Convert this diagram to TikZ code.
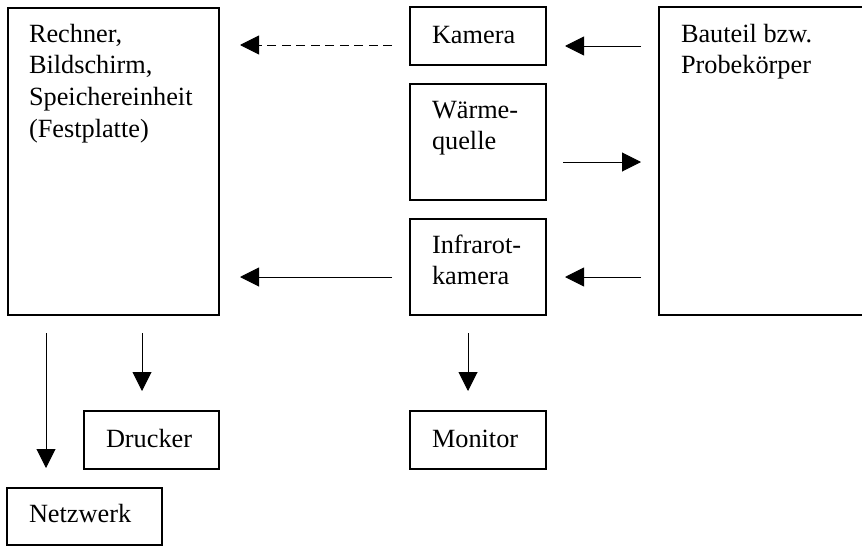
\documentclass[tikz,border=0pt]{standalone}
\usepackage{fontspec}
\setmainfont{Liberation Serif}
\usetikzlibrary{arrows.meta}
\begin{document}
\begin{tikzpicture}[x=1pt,y=-1pt,
  box/.style={draw, line width=1.9pt, inner sep=0pt, outer sep=0pt, anchor=north west},
  txt/.style={inner sep=0pt, outer sep=0pt, anchor=base west, align=left,
    font=\fontsize{26.3}{31.7}\selectfont},
  arr/.style={line width=1pt, -{Triangle[length=19pt,width=19pt]}},
  dsh/.style={dash pattern=on 9pt off 5.5pt}]
\useasboundingbox (0,0) rectangle (862,546);
\clip (0,0) rectangle (862,546);
% boxes
\node[box, minimum width=211pt, minimum height=307pt] (rech) at (8,8) {};
\node[box, minimum width=136pt, minimum height=58pt] (kam) at (410,7) {};
\node[box, minimum width=136pt, minimum height=116pt] (waerm) at (410,84) {};
\node[box, minimum width=136pt, minimum height=96pt] (infra) at (410,219) {};
\node[box, minimum width=230pt, minimum height=308pt] (bau) at (659,7) {};
\node[box, minimum width=135pt, minimum height=58pt] (druck) at (84,411) {};
\node[box, minimum width=136pt, minimum height=58pt] (mon) at (410,411) {};
\node[box, minimum width=155pt, minimum height=57pt] (netz) at (7,488) {};
% texts (anchor = baseline of last line)
\node[txt] (trech) at (29,137.1) {Rechner,\\Bildschirm,\\Speichereinheit\\(Festplatte)};
\node[txt] (tkam) at (432,43) {Kamera};
\node[txt] (twaerm) at (432,149.7) {Wärme-\\quelle};
\node[txt] (tinfra) at (432,284.7) {Infrarot-\\kamera};
\node[txt] (tbau) at (681,73.7) {Bauteil bzw.\\Probekörper};
\node[txt] (tdruck) at (106,447) {Drucker};
\node[txt] (tmon) at (432,447) {Monitor};
\node[txt] (tnetz) at (29,522) {Netzwerk};
% arrow end points
\coordinate (a1s) at (392,45);  \coordinate (a1e) at (240,45);
\coordinate (a2s) at (392,277); \coordinate (a2e) at (240,277);
\coordinate (a3s) at (641,46);  \coordinate (a3e) at (565,46);
\coordinate (a4s) at (563,162); \coordinate (a4e) at (641,162);
\coordinate (a5s) at (641,277); \coordinate (a5e) at (565,277);
\coordinate (a6s) at (46,333);  \coordinate (a6e) at (46,468);
\coordinate (a7s) at (142,333); \coordinate (a7e) at (142,391);
\coordinate (a8s) at (468,333); \coordinate (a8e) at (468,391);
% arrows
\draw[arr, dsh] (a1s) -- (a1e);
\draw[arr] (a2s) -- (a2e);
\draw[arr] (a3s) -- (a3e);
\draw[arr] (a4s) -- (a4e);
\draw[arr] (a5s) -- (a5e);
\draw[arr] (a6s) -- (a6e);
\draw[arr] (a7s) -- (a7e);
\draw[arr] (a8s) -- (a8e);
\end{tikzpicture}
\end{document}
